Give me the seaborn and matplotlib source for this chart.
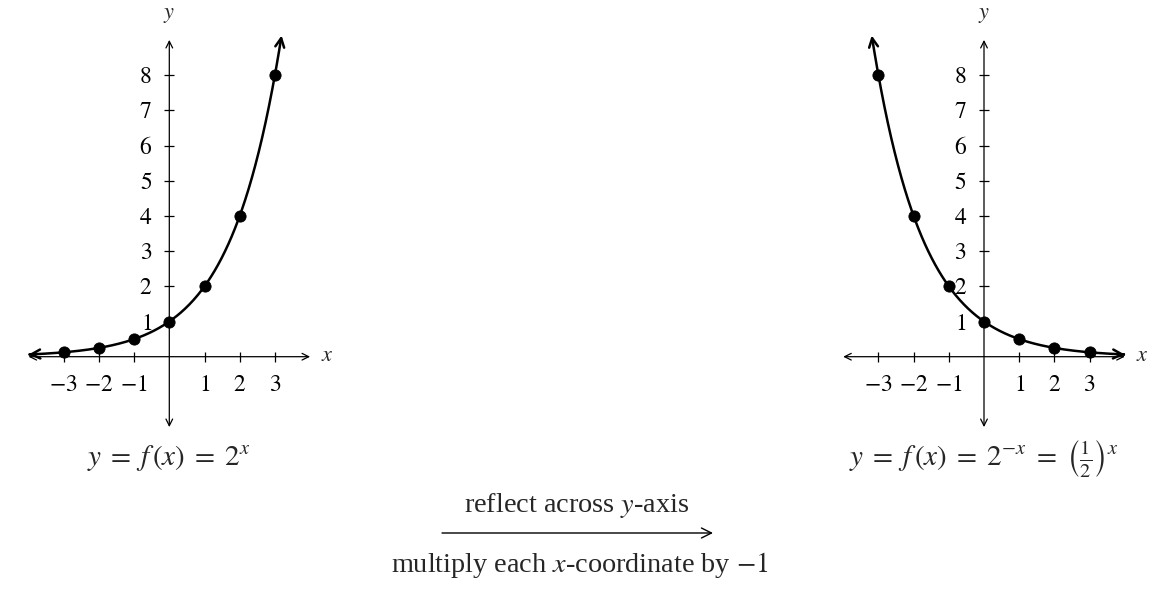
import numpy as np
import pandas as pd
import matplotlib
matplotlib.use("Agg")
import matplotlib.pyplot as plt
from matplotlib.ticker import FuncFormatter
import seaborn as sns

# points
x_pts = [-3, -2, -1, 0, 1, 2, 3]
y_left = [0.125, 0.25, 0.5, 1, 2, 4, 8]      # y = 2^x
y_right = [8, 4, 2, 1, 0.5, 0.25, 0.125]     # y = 2^-x
x_ticks = [-3, -2, -1, 1, 2, 3]
y_ticks = [1, 2, 3, 4, 5, 6, 7, 8]
x_range = (-4, 4)
y_range = (-2, 9)
curve_end = 3.19   # where the curve leaves the top of the grid

sns.set_theme(style="white")
plt.rcParams["font.family"] = ["Liberation Serif", "DejaVu Serif"]
plt.rcParams["mathtext.fontset"] = "stix"
plt.rcParams["axes.unicode_minus"] = True

W, H = 1175, 599
fig = plt.figure(figsize=(W / 100, H / 100), dpi=100)
unit = 35.2  # pixels per unit


def make_axes(x0_px):
    # x0_px: pixel position of the y-axis; x-axis sits at 356.7 px from top
    left = x0_px - 4 * unit
    bottom = H - (356.7 + 2 * unit)
    return fig.add_axes([left / W, bottom / H, 8 * unit / W, 11 * unit / H])


math_fmt = FuncFormatter(lambda v, p: f"${int(v)}$")


def draw_graph(ax, xs, ys, curve_x, base_sign, caption):
    df = pd.DataFrame({"x": curve_x, "y": np.power(2.0, base_sign * curve_x)})
    sns.lineplot(data=df, x="x", y="y", ax=ax, color="black", lw=1.8, sort=False)
    pts = pd.DataFrame({"x": xs, "y": ys})
    sns.scatterplot(data=pts, x="x", y="y", ax=ax, color="black", s=65,
                    edgecolor="black", zorder=4)
    # arrow heads at both ends of the curve
    for a, b in [(df.iloc[1], df.iloc[0]), (df.iloc[-2], df.iloc[-1])]:
        ax.annotate("", xy=(b.x, b.y), xytext=(a.x, a.y),
                    arrowprops=dict(arrowstyle="->", lw=1.8, color="black",
                                    mutation_scale=16, shrinkA=0, shrinkB=0),
                    annotation_clip=False)

    ax.set_xlim(*x_range)
    ax.set_ylim(*y_range)
    ax.spines["left"].set_position("zero")
    ax.spines["bottom"].set_position("zero")
    for s in ["top", "right", "left", "bottom"]:
        ax.spines[s].set_visible(False)
    # axes lines with arrows
    ax.annotate("", xy=(x_range[1], 0), xytext=(x_range[0], 0),
                arrowprops=dict(arrowstyle="<->", lw=0.9, color="black",
                                mutation_scale=12, shrinkA=0, shrinkB=0),
                annotation_clip=False)
    ax.annotate("", xy=(0, y_range[1]), xytext=(0, y_range[0]),
                arrowprops=dict(arrowstyle="<->", lw=0.9, color="black",
                                mutation_scale=12, shrinkA=0, shrinkB=0),
                annotation_clip=False)
    ax.set_xticks(x_ticks)
    ax.set_yticks(y_ticks)
    ax.xaxis.set_major_formatter(math_fmt)
    ax.yaxis.set_major_formatter(math_fmt)
    ax.tick_params(axis="both", direction="inout", length=7, width=0.9,
                   labelsize=17, color="black", labelcolor="black")
    ax.tick_params(axis="x", pad=10, bottom=True)
    ax.tick_params(axis="y", pad=9, left=True)
    ax.set_xlabel("")
    ax.set_ylabel("")
    ax.patch.set_alpha(0)
    ax.text(4.5, 0, "$x$", fontsize=16, ha="center", va="center")
    ax.text(0, 9.7, "$y$", fontsize=16, ha="center", va="center")
    ax.text(0, -2.88, caption, fontsize=21, ha="center", va="center")


ax_l = make_axes(169.3)
ax_r = make_axes(984.0)

draw_graph(ax_l, x_pts, y_left, np.linspace(x_range[0], curve_end, 300), 1.0,
           r"$y\;=\;f\,(x)\;=\;2^{x}$")
draw_graph(ax_r, x_pts, y_right, np.linspace(-curve_end, x_range[1], 300)[::-1], -1.0,
           r"$y\;=\;f\,(x)\;=\;2^{-x}\;=\;\left(\frac{1}{2}\right)^{x}$")

# transformation arrow in the middle
fig.text(577 / W, 1 - 505 / H, "reflect across $y$-axis", fontsize=20.3,
         ha="center", va="center")
ax_l.annotate("", xy=(713 / W, 1 - 533 / H), xytext=(442 / W, 1 - 533 / H),
              xycoords="figure fraction", textcoords="figure fraction",
              arrowprops=dict(arrowstyle="->", lw=1.0, color="black",
                              mutation_scale=18, shrinkA=0, shrinkB=0),
              annotation_clip=False)
fig.text(580 / W, 1 - 565 / H, "multiply each $x$-coordinate by $-1$",
         fontsize=20.3, ha="center", va="center")

fig.savefig("out.png", dpi=100)
